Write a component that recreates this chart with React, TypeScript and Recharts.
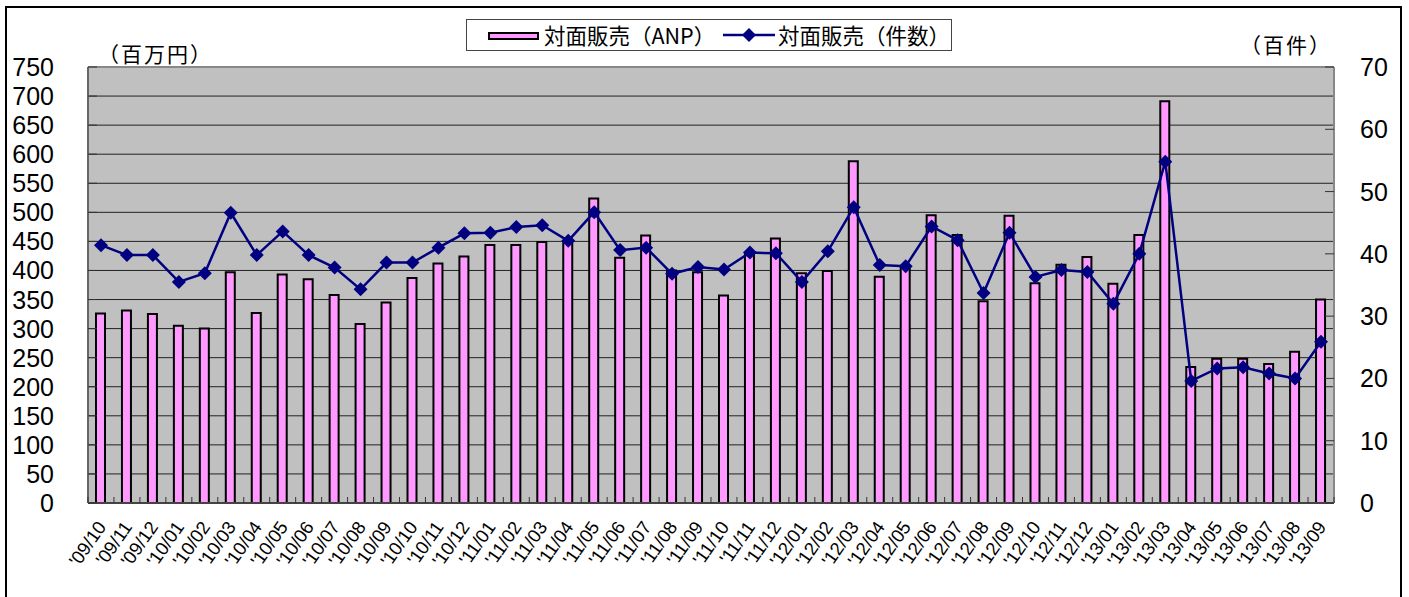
import React from 'react';
import { ComposedChart, Bar, Line, XAxis, YAxis, CartesianGrid, ReferenceLine } from 'recharts';

const months = [
  "'09/10", "'09/11", "'09/12", "'10/01", "'10/02", "'10/03", "'10/04", "'10/05", "'10/06", "'10/07", "'10/08", "'10/09",
  "'10/10", "'10/11", "'10/12", "'11/01", "'11/02", "'11/03", "'11/04", "'11/05", "'11/06", "'11/07", "'11/08", "'11/09",
  "'11/10", "'11/11", "'11/12", "'12/01", "'12/02", "'12/03", "'12/04", "'12/05", "'12/06", "'12/07", "'12/08", "'12/09",
  "'12/10", "'12/11", "'12/12", "'13/01", "'13/02", "'13/03", "'13/04", "'13/05", "'13/06", "'13/07", "'13/08", "'13/09",
];

// 対面販売（ANP）, 百万円
const anp = [
  326, 331, 325, 305, 300, 397, 327, 393, 385, 358, 308, 345,
  387, 412, 424, 444, 444, 449, 450, 524, 422, 460, 400, 397,
  357, 428, 455, 395, 399, 588, 389, 405, 495, 461, 347, 494,
  378, 410, 423, 377, 461, 691, 234, 248, 248, 239, 260, 350,
];

// 対面販売（件数）, 百件
const counts = [
  41.4, 39.8, 39.8, 35.5, 36.9, 46.6, 39.8, 43.6, 39.8, 37.8, 34.3, 38.6,
  38.6, 41.0, 43.3, 43.4, 44.3, 44.6, 42.1, 46.7, 40.6, 41.0, 36.8, 37.9,
  37.5, 40.2, 40.1, 35.5, 40.4, 47.5, 38.2, 38.0, 44.4, 42.2, 33.7, 43.4,
  36.3, 37.4, 37.1, 32.0, 40.0, 54.8, 19.6, 21.6, 21.8, 20.8, 20.0, 25.9,
];

const leftTicks = [0, 50, 100, 150, 200, 250, 300, 350, 400, 450, 500, 550, 600, 650, 700, 750];
const rightTicks = [0, 10, 20, 30, 40, 50, 60, 70];

const barName = '対面販売（ANP）';
const lineName = '対面販売（件数）';
const leftUnit = '（百万円）';
const rightUnit = '（百件）';

const data = months.map((m, i) => ({ month: m, anp: anp[i], count: counts[i] }));

const W = 1409;
const H = 597;
const PLOT_LEFT = 88;
const PLOT_RIGHT = 1334;
const PLOT_TOP = 67;
const PLOT_BOTTOM = 503;
const BAND = (PLOT_RIGHT - PLOT_LEFT) / months.length;

const numFont = '"Liberation Sans", Arial, sans-serif';
const jpFont = '"Noto Sans CJK JP", sans-serif';

const LeftTick = (props: any) => {
  const { x, y, payload } = props;
  return (
    <g>
      <line x1={x} x2={x + 9} y1={y} y2={y} stroke="#333" strokeWidth={1} />
      <text x={x - 34} y={y} dy="0.36em" textAnchor="end" fontSize={25} fontFamily={numFont} fill="#000">
        {payload.value}
      </text>
    </g>
  );
};

const RightTick = (props: any) => {
  const { x, y, payload } = props;
  return (
    <g>
      <line x1={x - 9} x2={x} y1={y} y2={y} stroke="#333" strokeWidth={1} />
      <text x={x + 26} y={y} dy="0.36em" textAnchor="start" fontSize={25} fontFamily={numFont} fill="#000">
        {payload.value}
      </text>
    </g>
  );
};

const MonthTick = (props: any) => {
  const { x, y, payload, index } = props;
  const bx = x + BAND / 2;
  return (
    <g>
      {index === 0 && <line x1={x - BAND / 2} x2={x - BAND / 2} y1={y} y2={y - 6} stroke="#333" />}
      <line x1={bx} x2={bx} y1={y} y2={y - 6} stroke="#333" />
      <text
        x={x + 6}
        y={y + 24}
        textAnchor="end"
        fontSize={18.5}
        fontFamily={numFont}
        fill="#000"
        transform={`rotate(-55, ${x + 6}, ${y + 24})`}
      >
        {payload.value}
      </text>
    </g>
  );
};

const Diamond = (props: any) => {
  const { cx, cy, index } = props;
  if (cx == null || cy == null) return null;
  const r = 7;
  return (
    <path
      key={`d-${index}`}
      d={`M${cx},${cy - r}L${cx + r},${cy}L${cx},${cy + r}L${cx - r},${cy}Z`}
      fill="#000080"
    />
  );
};

function ChartLegend() {
  return (
    <div
      style={{
        position: 'absolute',
        left: 466,
        top: 19,
        width: 486,
        height: 32,
        border: '1px solid #444',
        background: '#fff',
        boxSizing: 'border-box',
        fontFamily: jpFont,
        fontSize: 21.5,
        color: '#000',
      }}
    >
      <div style={{ position: 'absolute', left: 21, top: 12, width: 47, height: 4, background: '#ff99ff', border: '2px solid #000' }} />
      <div style={{ position: 'absolute', left: 77, top: 0, lineHeight: '30px', whiteSpace: 'nowrap' }}>{barName}</div>
      <svg style={{ position: 'absolute', left: 256, top: 3 }} width={52} height={24}>
        <line x1={0} x2={52} y1={12} y2={12} stroke="#000080" strokeWidth={2.5} />
        <path d="M26,5L33,12L26,19L19,12Z" fill="#000080" />
      </svg>
      <div style={{ position: 'absolute', left: 311, top: 0, lineHeight: '30px', whiteSpace: 'nowrap' }}>{lineName}</div>
    </div>
  );
}

export default function App() {
  return (
    <div style={{ position: 'absolute', left: 0, top: 0, width: W, height: H, overflow: 'hidden', background: '#fff' }}>
      <div
        style={{
          position: 'absolute',
          left: 5,
          top: 6,
          width: 1397,
          height: 700,
          border: '2px solid #000',
          boxSizing: 'border-box',
        }}
      />
      <ComposedChart
        width={W}
        height={H}
        data={data}
        margin={{ top: PLOT_TOP, right: 0, bottom: 0, left: 0 }}
        barCategoryGap={0}
        style={{ position: 'absolute', left: 0, top: 0 }}
      >
        <CartesianGrid
          yAxisId="left"
          vertical={false}
          horizontalValues={leftTicks.slice(1, -1)}
          stroke="#222"
          strokeWidth={1}
          fill="#c0c0c0"
          fillOpacity={1}
        />
        <XAxis
          dataKey="month"
          interval={0}
          height={H - PLOT_BOTTOM}
          tickSize={0}
          tickMargin={0}
          tickLine={false}
          axisLine={{ stroke: '#444', strokeWidth: 2 }}
          tick={<MonthTick />}
        />
        <YAxis
          yAxisId="left"
          orientation="left"
          width={PLOT_LEFT}
          domain={[0, 750]}
          ticks={leftTicks}
          interval={0}
          tickSize={0}
          tickMargin={0}
          tickLine={false}
          axisLine={{ stroke: '#666', strokeWidth: 2 }}
          tick={<LeftTick />}
        />
        <YAxis
          yAxisId="right"
          orientation="right"
          width={W - PLOT_RIGHT}
          domain={[0, 70]}
          ticks={rightTicks}
          interval={0}
          tickSize={0}
          tickMargin={0}
          tickLine={false}
          axisLine={{ stroke: '#888', strokeWidth: 2 }}
          tick={<RightTick />}
        />
        <ReferenceLine yAxisId="left" y={750} stroke="#888" strokeWidth={2} />
        <Bar
          yAxisId="left"
          dataKey="anp"
          name={barName}
          barSize={9}
          fill="#ff99ff"
          stroke="#000"
          strokeWidth={2}
          isAnimationActive={false}
        />
        <Line
          yAxisId="right"
          dataKey="count"
          name={lineName}
          type="linear"
          stroke="#000080"
          strokeWidth={2.5}
          dot={<Diamond />}
          activeDot={false}
          isAnimationActive={false}
        />
      </ComposedChart>
      <div style={{ position: 'absolute', left: 98, top: 39, fontFamily: jpFont, fontSize: 21, letterSpacing: 2, lineHeight: '28px', whiteSpace: 'nowrap' }}>
        {leftUnit}
      </div>
      <div style={{ position: 'absolute', left: 1240, top: 30, fontFamily: jpFont, fontSize: 21, letterSpacing: 2, lineHeight: '28px', whiteSpace: 'nowrap' }}>
        {rightUnit}
      </div>
      <ChartLegend />
    </div>
  );
}
